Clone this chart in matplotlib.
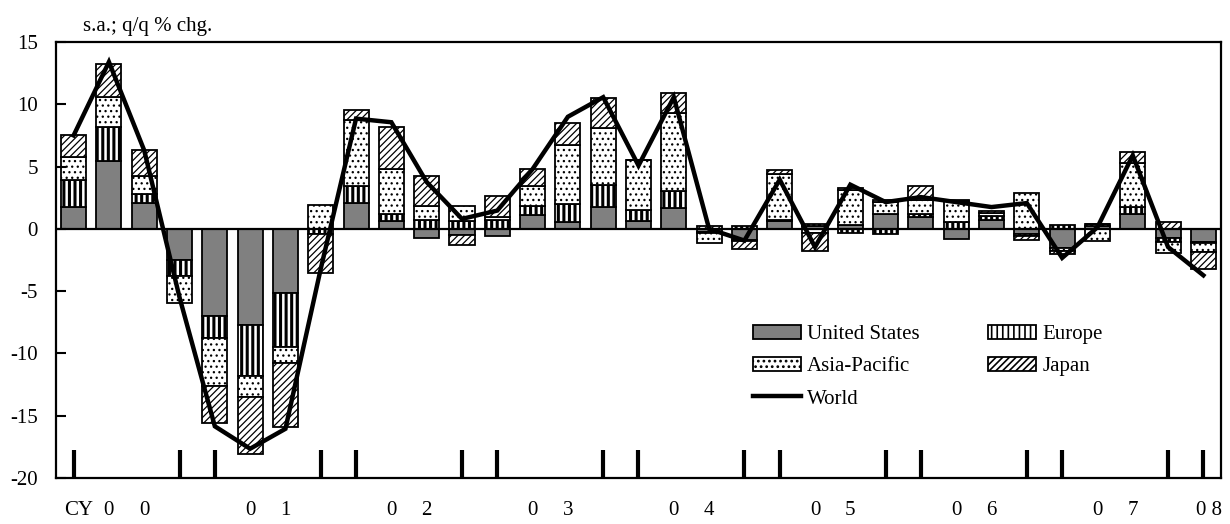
import numpy as np
import matplotlib.pyplot as plt
import matplotlib.transforms as mtransforms

plt.rcParams['font.family'] = ['Liberation Serif', 'DejaVu Serif']
plt.rcParams['axes.unicode_minus'] = False
plt.rcParams['hatch.linewidth'] = 1.2

# Contributions by region, s.a. q/q % chg., CY2000Q1 .. CY2008Q1
us = [1.75, 5.45, 2.07, -2.53, -7.0, -7.75, -5.13, 0.0, 2.1, 0.61, -0.72,
      -0.46, -0.54, 1.12, 0.55, 1.79, 0.67, 1.7, -0.25, -0.9, 0.67, 0.2,
      0.35, 1.2, 0.95, -0.83, 0.75, -0.45, -1.5, 0.2, 1.2, -0.72, -1.07]
europe = [2.2, 2.75, 0.76, -1.29, -1.77, -4.07, -4.36, -0.4, 1.31, 0.6, 0.72,
          0.61, 0.72, 0.68, 1.42, 1.77, 0.86, 1.33, -0.05, 0.2, 0.05, 0.2,
          -0.35, -0.45, 0.25, 0.53, 0.25, -0.1, 0.35, 0.2, 0.55, -0.35, -0.1]
asia = [1.85, 2.4, 1.41, -2.14, -3.83, -1.69, -1.26, 1.88, 5.36, 3.6, 1.08,
        1.2, 0.25, 1.61, 4.8, 4.54, 3.97, 6.28, -0.85, -0.1, 3.7, -0.35,
        2.75, 0.95, 1.15, 1.7, 0.3, 2.9, -0.3, -0.95, 3.53, -0.86, -0.7]
japan = [1.75, 2.6, 2.12, 0.0, -2.97, -4.6, -5.17, -3.15, 0.75, 3.34, 2.48,
         -0.8, 1.65, 1.41, 1.71, 2.4, 0.05, 1.62, 0.2, -0.6, 0.32, -1.4,
         0.15, 0.2, 1.06, 0.1, 0.15, -0.35, -0.25, 0.0, 0.89, 0.55, -1.35]
world = [7.5, 13.4, 6.3, -5.5, -15.85, -17.65, -16.05, -3.2, 8.85, 8.56, 3.76,
         0.8, 1.47, 4.8, 9.0, 10.57, 5.08, 10.57, 0.0, -0.94, 3.95, -1.46,
         3.55, 2.15, 2.55, 2.15, 1.75, 2.07, -2.33, 0.13, 5.9, -1.46, -3.73]
years = ['00', '01', '02', '03', '04', '05', '06', '07']
last_year = '0 8'

n = len(world)
x = np.arange(n)

fig, ax = plt.subplots(figsize=(12.3, 5.24), dpi=100)
fig.subplots_adjust(left=0.0455, right=0.9927, bottom=0.0878, top=0.9198)

series = [
    (us, 'United States', '#808080', None),
    (europe, 'Europe', 'white', '|||'),
    (asia, 'Asia-Pacific', 'white', '...'),
    (japan, 'Japan', 'white', '/////'),
]
pos_base = np.zeros(n)
neg_base = np.zeros(n)
handles = {}
for vals, label, color, hatch in series:
    v = np.array(vals)
    base = np.where(v >= 0, pos_base, neg_base)
    lw_h = 2.2 if hatch == '|||' else 0.9
    with plt.rc_context({'hatch.linewidth': lw_h}):
        b = ax.bar(x, v, bottom=base, width=0.71, color=color, edgecolor='black',
                   linewidth=1.3, hatch=hatch, label=label)
    handles[label] = b
    pos_base += np.clip(v, 0, None)
    neg_base += np.clip(v, None, 0)

ax.axhline(0, color='black', lw=1.6, zorder=3)
line, = ax.plot(x, world, color='black', lw=3.2, solid_joinstyle='miter', label='World', zorder=4)

ax.set_xlim(-0.5, n - 0.5)
ax.set_ylim(-20, 15)
ax.set_yticks(range(-20, 16, 5))
for s in ax.spines.values():
    s.set_linewidth(1.6)

# ticks at Q4 and following Q1
tick_pos = [i for i in range(n) if i % 4 in (0, 3)]
ax.set_xticks(tick_pos)
ax.tick_params(axis='x', direction='in', length=20, width=3, labelbottom=False)
ax.tick_params(axis='y', direction='in', length=7, width=1.5, pad=13, labelsize=15)

trans = mtransforms.blended_transform_factory(ax.transData, ax.transAxes)
ty = -0.074
ax.text(0.15, ty, 'CY', transform=trans, ha='center', va='center', fontsize=15)
for k, yl in enumerate(years):
    ax.text(4 * k + 1, ty, yl[0], transform=trans, ha='center', va='center', fontsize=15)
    ax.text(4 * k + 2, ty, yl[1], transform=trans, ha='center', va='center', fontsize=15)
ax.text(n - 1 + 0.15, ty, last_year, transform=trans, ha='center', va='center', fontsize=15)

fig.text(83 / 1230, 1 - 31 / 524, 's.a.; q/q % chg.', fontsize=15, va='baseline')

order = [handles['United States'], handles['Asia-Pacific'], line,
         handles['Europe'], handles['Japan']]
labels = ['United States', 'Asia-Pacific', 'World', 'Europe', 'Japan']
ax.legend(order, labels, loc='upper left', bbox_to_anchor=(0.598, 0.352),
          ncol=2, frameon=False, fontsize=15, borderpad=0, borderaxespad=0,
          handlelength=2.3, handleheight=0.67, handletextpad=0.3,
          columnspacing=3.3, labelspacing=0.62)

fig.savefig('out.png', dpi=100)
